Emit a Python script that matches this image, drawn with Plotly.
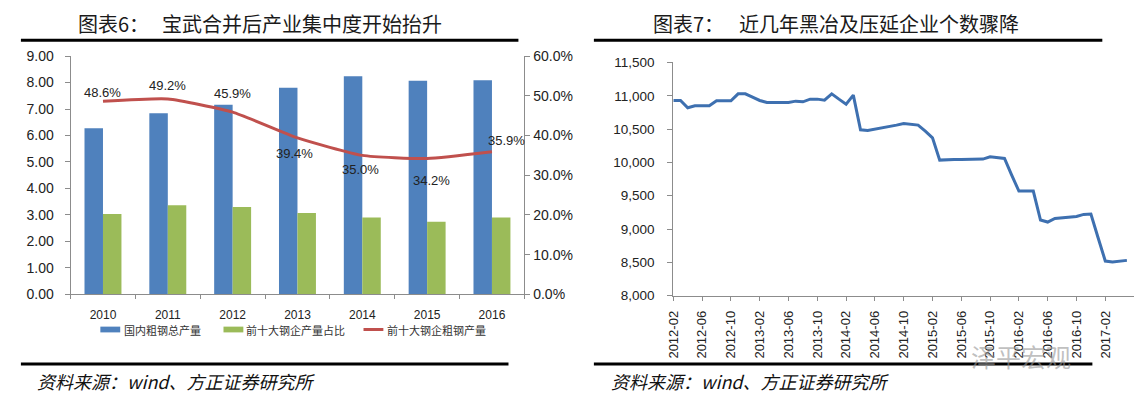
import plotly.graph_objects as go
import pandas as pd

# ---------------- data: left chart ----------------
years = ['2010', '2011', '2012', '2013', '2014', '2015', '2016']
total_output = [6.27, 6.84, 7.16, 7.80, 8.24, 8.07, 8.09]     # 国内粗钢总产量
top10_output = [3.04, 3.37, 3.30, 3.07, 2.90, 2.74, 2.90]     # 前十大钢企产量占比 (legend as in source)
top10_share = [48.6, 49.2, 45.9, 39.4, 35.0, 34.2, 35.9]      # 前十大钢企粗钢产量 (%)

# ---------------- data: right chart ----------------
months = [str(p) for p in pd.period_range('2012-02', '2017-05', freq='M')]
enterprise_count = [
    10930, 10930, 10820, 10850, 10850, 10850, 10925, 10925, 10925, 11030,
    11030, 10980, 10930, 10900, 10900, 10900, 10900, 10920, 10910, 10950,
    10950, 10935, 11030, 10950, 10875, 11010, 10490, 10480, 10500, 10515,
    10530, 10560, 10585, 10575, 10560, 10470, 10370, 10035, 10045, 10045,
    10045, 10045, 10045, 10050, 10085, 10075, 10060, 9810, 9570, 9570,
    9570, 9135, 9105, 9160, 9170, 9180, 9190, 9220, 9225, 8870,
    8520, 8505, 8515, 8530,
]
x_tick_labels = ['2012-02', '2012-06', '2012-10', '2013-02', '2013-06', '2013-10',
                 '2014-02', '2014-06', '2014-10', '2015-02', '2015-06', '2015-10',
                 '2016-02', '2016-06', '2016-10', '2017-02']

W, H = 1147, 412
def px(x):
    return x / W
def py(y):
    return 1 - y / H

BLUE = '#4F81BD'
GREEN = '#9BBB59'
RED = '#C0504D'
LINEBLUE = '#3E70B0'
AXIS = '#8C8C8C'
NARROW = 'Liberation Sans Narrow, Arial Narrow, Liberation Sans, sans-serif'
SANS = 'Liberation Sans, Arial, sans-serif'
CJK = 'Noto Sans CJK SC'

xpos = list(range(len(years)))   # category positions on the left chart

fig = go.Figure()

fig.add_trace(go.Bar(x=xpos, y=total_output, name='国内粗钢总产量',
                     marker=dict(color=BLUE, line=dict(width=0)),
                     xaxis='x', yaxis='y', showlegend=False))
fig.add_trace(go.Bar(x=xpos, y=top10_output, name='前十大钢企产量占比',
                     marker=dict(color=GREEN, line=dict(width=0)),
                     xaxis='x', yaxis='y', showlegend=False))
fig.add_trace(go.Scatter(x=xpos, y=top10_share, name='前十大钢企粗钢产量',
                         mode='lines', line=dict(color=RED, width=3, shape='spline', smoothing=0.5),
                         xaxis='x', yaxis='y2', showlegend=False))

fig.add_trace(go.Scatter(x=months, y=enterprise_count, mode='lines',
                         line=dict(color=LINEBLUE, width=3),
                         xaxis='x2', yaxis='y3', showlegend=False))

# data labels for the share line
shifts = [(0, 9), (0, 13), (0, 19), (-3, -16), (-2, -14), (4, -22), (15, 11)]
annotations = []
for i, v, (dx, dy) in zip(xpos, top10_share, shifts):
    annotations.append(dict(x=i, y=v, xref='x', yref='y2', text=f'{v:.1f}%',
                            showarrow=False, xshift=dx, yshift=dy,
                            font=dict(family=NARROW, size=13, color='#222222')))

# titles
title_font = dict(family=CJK, size=20, color='#1a1a1a')
for x0, txt in [(68, '图表6：'), (153, '宝武合并后产业集中度开始抬升'),
                (648, '图表7：'), (734, '近几年黑冶及压延企业个数骤降')]:
    annotations.append(dict(x=px(x0), y=py(16), xref='paper', yref='paper', text=txt,
                            showarrow=False, xanchor='left', yanchor='middle', font=title_font))

# source notes
for x0 in (27, 605):
    annotations.append(dict(x=px(x0), y=py(388), xref='paper', yref='paper',
                            text='资料来源：wind、方正证券研究所', showarrow=False,
                            xanchor='left', yanchor='middle',
                            font=dict(family=CJK, size=18, color='#111111', style='italic')))

# legend (left chart)
leg_font = dict(family=CJK, size=11, color='#333333')
for x0, txt in [(115, '国内粗钢总产量'), (238, '前十大钢企产量占比'), (380, '前十大钢企粗钢产量')]:
    annotations.append(dict(x=px(x0), y=py(335), xref='paper', yref='paper', text=txt,
                            showarrow=False, xanchor='left', yanchor='middle', font=leg_font))

# watermark
annotations.append(dict(x=px(968), y=py(362), xref='paper', yref='paper', text='泽平宏观',
                        showarrow=False, xanchor='left', yanchor='middle',
                        font=dict(family=CJK, size=25, color='rgba(150,150,150,0.6)')))

shapes = [
    dict(type='line', xref='paper', yref='paper', x0=px(13), x1=px(514), y0=py(33.5), y1=py(33.5),
         line=dict(color='black', width=3)),
    dict(type='line', xref='paper', yref='paper', x0=px(590), x1=px(1102), y0=py(33.5), y1=py(33.5),
         line=dict(color='black', width=3)),
    dict(type='line', xref='paper', yref='paper', x0=px(13), x1=px(504), y0=py(370.5), y1=py(370.5),
         line=dict(color='black', width=3)),
    dict(type='line', xref='paper', yref='paper', x0=px(590), x1=px(1092), y0=py(370.5), y1=py(370.5),
         line=dict(color='black', width=3)),
    dict(type='rect', xref='paper', yref='paper', x0=px(93), x1=px(113), y0=py(337.5), y1=py(331.5),
         fillcolor=BLUE, line=dict(width=0)),
    dict(type='rect', xref='paper', yref='paper', x0=px(217), x1=px(237), y0=py(337.5), y1=py(331.5),
         fillcolor=GREEN, line=dict(width=0)),
    dict(type='line', xref='paper', yref='paper', x0=px(358), x1=px(378), y0=py(334.5), y1=py(334.5),
         line=dict(color=RED, width=3)),
]

tick_common = dict(showgrid=False, zeroline=False, showline=True, linecolor=AXIS, linewidth=1,
                   ticks='outside', tickcolor=AXIS, ticklen=5, tickwidth=1)

fig.update_layout(
    width=W, height=H, autosize=False,
    margin=dict(l=0, r=0, t=0, b=0),
    paper_bgcolor='white', plot_bgcolor='white',
    barmode='group', bargap=0.43, bargroupgap=0,
    xaxis=dict(domain=[px(63), px(520)], anchor='y', type='linear',
               range=[-0.5, len(years) - 0.5], tickvals=xpos, ticktext=years,
               showgrid=False, zeroline=False, showline=True, linecolor=AXIS, linewidth=1,
               ticks='', ticklabelstandoff=9,
               minor=dict(tick0=-0.5, dtick=1, ticks='outside', ticklen=4,
                          tickcolor=AXIS, showgrid=False),
               tickfont=dict(family=NARROW, size=12, color='#222222')),
    yaxis=dict(domain=[py(298), py(50)], anchor='x', range=[0, 9], dtick=1, tickformat='.2f',
               ticklabelstandoff=8,
               tickfont=dict(family=NARROW, size=14, color='#222222'), **tick_common),
    yaxis2=dict(overlaying='y', side='right', anchor='x', range=[0, 60], dtick=10,
                tickformat='.1f', ticksuffix='%', ticklabelstandoff=0,
                tickfont=dict(family=NARROW, size=14, color='#222222'), **tick_common),
    xaxis2=dict(domain=[px(670), px(1134)], anchor='y3', type='category',
                categoryorder='array', categoryarray=months,
                range=[0, 64], tickvals=[months[i] for i in range(0, 64, 4)],
                ticktext=x_tick_labels, tickangle=-90, ticklen=4, ticklabelstandoff=5,
                tickfont=dict(family=SANS, size=13, color='#222222'),
                **{k: v for k, v in tick_common.items() if k != 'ticklen'}),
    yaxis3=dict(domain=[py(299.3), py(56.7)], anchor='x2', range=[8000, 11500], dtick=500,
                tickformat=',.0f', ticklabelstandoff=10,
                tickfont=dict(family=SANS, size=13.5, color='#222222'), **tick_common),
    annotations=annotations,
    shapes=shapes,
)

fig.write_html('out.html')
